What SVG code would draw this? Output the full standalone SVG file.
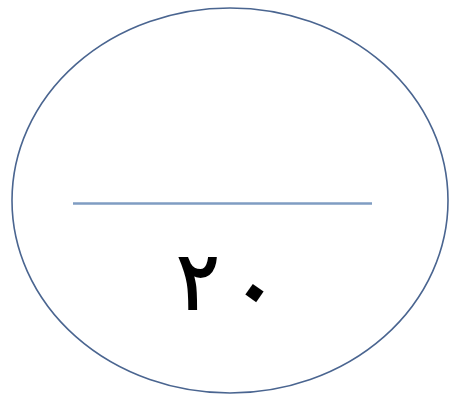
<svg xmlns="http://www.w3.org/2000/svg" width="454" height="404" viewBox="0 0 454 404">
<style>
.shape{fill:#ffffff;stroke:#4a6590;stroke-width:1.6}
.div{stroke:#7f9cc2;stroke-width:2.6}
.lbl{font-family:"DejaVu Sans","Noto Sans",sans-serif;fill:#000000;text-anchor:middle}
</style>
<rect width="454" height="404" fill="#ffffff"/>
<g id="node1">
<ellipse class="shape" cx="230" cy="200.5" rx="218" ry="192.5"/>
<line class="div" x1="73" y1="203.5" x2="372" y2="203.5"/>
<text class="lbl" x="198" y="309" font-size="80" stroke="#000" stroke-width="1.8">٢</text>
<text class="lbl" x="256" y="315" font-size="76" font-weight="bold" transform="rotate(35 256 291)">٠</text>
</g>
<g id="connectors"/>
</svg>
